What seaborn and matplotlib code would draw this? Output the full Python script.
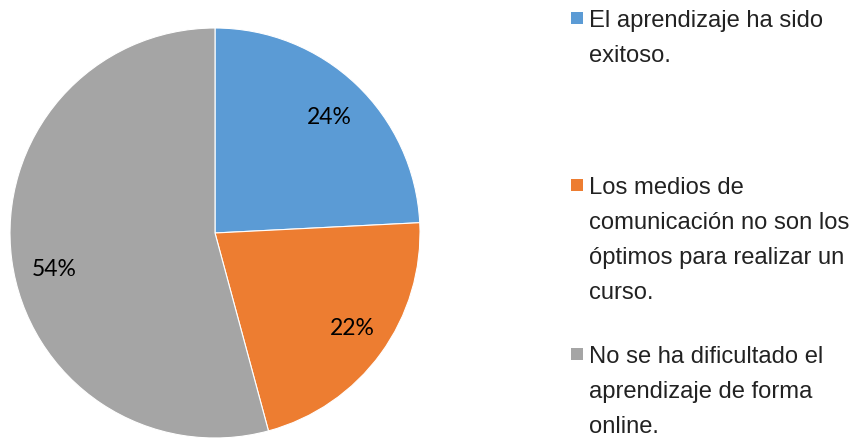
import matplotlib
matplotlib.use("Agg")
import matplotlib.pyplot as plt
import seaborn as sns
from matplotlib.patches import Rectangle

categories = [
    "El aprendizaje ha sido\nexitoso.",
    "Los medios de\ncomunicación no son los\nóptimos para realizar un\ncurso.",
    "No se ha dificultado el\naprendizaje de forma\nonline.",
]
values = [24.2, 21.6, 54.2]
colors = ["#5B9BD5", "#ED7D31", "#A5A5A5"]
# data-label positions (pie radius units), as placed in the original
label_pos = [(0.56, 0.565), (0.67, -0.465), (-0.785, -0.18)]

sns.set_theme(style="white")
plt.rcParams["font.family"] = ["Liberation Sans", "DejaVu Sans"]

W, H = 856, 438
fig = plt.figure(figsize=(W / 100, H / 100), dpi=100)
ax = fig.add_axes([10 / W, 0.0, 410 / W, 410 / H])

wedges, texts, autotexts = ax.pie(
    values, colors=colors, startangle=90, counterclock=False,
    autopct=lambda p: f"{p:.0f}%", pctdistance=0.81,
    wedgeprops=dict(edgecolor="white", linewidth=0.8),
    textprops=dict(fontsize=16.5, family=["Lato", "DejaVu Sans"], color="black"),
)
for t, pos in zip(autotexts, label_pos):
    t.set_position(pos)
ax.set_xlim(-1.0, 1.0)
ax.set_ylim(-1.0, 1.0)
ax.set_aspect("equal")
ax.axis("off")

# legend (manual, to reproduce the even spacing of the original)
first_baselines = [27, 194, 363]
line_step = 35
for cat, col, b0 in zip(categories, colors, first_baselines):
    lines = cat.split("\n")
    sq_top = b0 - 15
    fig.patches.append(Rectangle((571 / W, 1 - (sq_top + 12) / H), 12 / W, 12 / H,
                                 transform=fig.transFigure, facecolor=col,
                                 edgecolor="none"))
    for i, line in enumerate(lines):
        fig.text(589 / W, 1 - (b0 + i * line_step) / H, line, fontsize=17.1,
                 va="baseline", ha="left", color="#222222")

fig.savefig("out.png", dpi=100, facecolor="white")
